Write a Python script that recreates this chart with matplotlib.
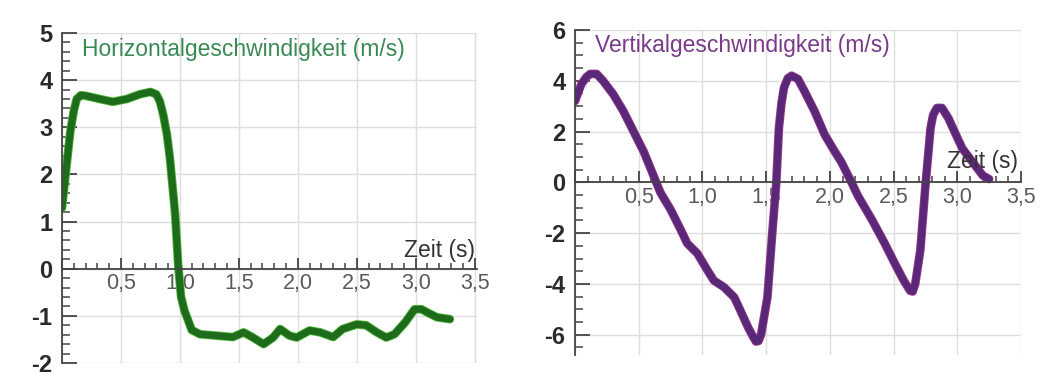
import numpy as np
import matplotlib.pyplot as plt
import matplotlib.patheffects as pe
from matplotlib.ticker import MultipleLocator, FuncFormatter

plt.rcParams['font.family'] = ['Liberation Sans', 'DejaVu Sans']

# Horizontalgeschwindigkeit
t_h = [0.0, 0.035, 0.07, 0.10, 0.125, 0.16, 0.195, 0.25, 0.32, 0.43, 0.55, 0.66, 0.75, 0.80, 0.83,
       0.86, 0.89, 0.915, 0.96, 0.985, 1.01, 1.04, 1.06, 1.10, 1.17, 1.31, 1.45, 1.54, 1.62, 1.71, 1.79,
       1.85, 1.93, 1.99, 2.10, 2.19, 2.30, 2.38, 2.50, 2.58, 2.67, 2.75, 2.82,
       2.91, 2.99, 3.05, 3.10, 3.18, 3.29]
v_h = [1.29, 2.1, 2.9, 3.35, 3.6, 3.68, 3.67, 3.64, 3.6, 3.54, 3.6, 3.7, 3.75, 3.7, 3.55,
       3.25, 2.85, 2.35, 1.15, 0.1, -0.6, -0.9, -1.03, -1.3, -1.39, -1.42, -1.45, -1.35, -1.46, -1.6, -1.46,
       -1.28, -1.42, -1.46, -1.31, -1.35, -1.45, -1.28, -1.18, -1.2, -1.35, -1.46, -1.39,
       -1.14, -0.86, -0.86, -0.93, -1.03, -1.07]

# Vertikalgeschwindigkeit
t_v = [0.0, 0.05, 0.09, 0.12, 0.17, 0.22, 0.30, 0.38, 0.46, 0.54, 0.605, 0.67, 0.75,
       0.83, 0.88, 0.96, 1.04, 1.09, 1.17, 1.25, 1.30, 1.36, 1.40, 1.42, 1.44, 1.46, 1.51,
       1.55, 1.58, 1.60, 1.62, 1.64, 1.67, 1.70, 1.75, 1.80, 1.88, 1.96, 2.04, 2.09, 2.17,
       2.22, 2.33, 2.43, 2.51, 2.58, 2.63, 2.65, 2.67, 2.71, 2.75, 2.79, 2.81, 2.84, 2.88,
       2.93, 2.99, 3.04, 3.12, 3.20, 3.25]
v_v = [3.2, 3.87, 4.15, 4.27, 4.27, 4.0, 3.47, 2.8, 2.0, 1.2, 0.4, -0.4, -1.07,
       -1.87, -2.4, -2.8, -3.47, -3.87, -4.13, -4.53, -5.07, -5.73, -6.1, -6.27, -6.25, -6.0, -4.53,
       -1.87, 0.0, 2.13, 3.1, 3.73, 4.1, 4.2, 4.07, 3.6, 2.8, 1.87, 1.2, 0.8, 0.0,
       -0.53, -1.47, -2.4, -3.2, -3.87, -4.27, -4.3, -4.0, -2.67, -0.13, 2.13, 2.65, 2.93, 2.93,
       2.53, 1.87, 1.33, 0.8, 0.27, 0.13]

W, H = 1046, 385
fig = plt.figure(figsize=(W/100, H/100), dpi=100)
fig.patch.set_facecolor('white')

def achse(rect, ylim, ymaj, ymin, yticks):
    ax = fig.add_axes(rect)
    ax.set_xlim(0, 3.5)
    ax.set_ylim(*ylim)
    ax.spines['top'].set_visible(False)
    ax.spines['right'].set_visible(False)
    ax.spines['bottom'].set_position(('data', 0))
    for s in ('left', 'bottom'):
        ax.spines[s].set_color('#444444')
        ax.spines[s].set_linewidth(1.3)
    ax.xaxis.set_major_locator(MultipleLocator(0.5))
    ax.xaxis.set_minor_locator(MultipleLocator(0.1))
    ax.yaxis.set_major_locator(MultipleLocator(ymaj))
    ax.yaxis.set_minor_locator(MultipleLocator(ymin))
    ax.xaxis.set_major_formatter(FuncFormatter(
        lambda x, p: '' if abs(x) < 1e-9 else f'{x:.1f}'.replace('.', ',')))
    ax.yaxis.set_major_formatter(FuncFormatter(lambda y, p: f'{int(round(y))}'))
    ax.tick_params(axis='both', which='both', direction='in', color='#444444')
    ax.tick_params(axis='y', which='major', length=11, width=1.3)
    ax.tick_params(axis='y', which='minor', length=6, width=1.1)
    ax.tick_params(axis='x', which='major', length=8, width=1.3)
    ax.tick_params(axis='x', which='minor', length=4, width=1.1)
    ax.tick_params(axis='y', labelsize=17, labelcolor='#2a2a2a', pad=7)
    ax.tick_params(axis='x', labelsize=15.5, labelcolor='#5a5a5a', pad=3)
    ax.set_yticks(yticks)
    for lab in ax.get_yticklabels():
        lab.set_fontweight('bold')
    ax.grid(True, which='major', color='#dedede', linewidth=1.0)
    ax.set_axisbelow(True)
    return ax

ax1 = achse([62/W, 22/H, 415/W, 330/H], (-2, 5), 1, 0.2, range(-2, 6))
ax1.plot(t_h, v_h, color='#1f6b1c', lw=5.0, solid_capstyle='round', solid_joinstyle='round',
         path_effects=[pe.Stroke(linewidth=6.2, foreground='#4fb83a'), pe.Normal()])
ax1.text(0.17, 4.65, 'Horizontalgeschwindigkeit (m/s)', color='#3a8a55',
         fontsize=16.5, va='center', ha='left')
ax1.text(3.5, 0.15, 'Zeit (s)', color='#333333', fontsize=16.5, ha='right', va='bottom')
ax1.set_xlim(0, 3.52)

ax2 = achse([575/W, 30/H, 446/W, 325/H], (-6.8, 6), 2, 0.5, range(-6, 7, 2))
ax2.plot(t_v, v_v, color='#5a2878', lw=5.0, solid_capstyle='round', solid_joinstyle='round',
         path_effects=[pe.Stroke(linewidth=6.2, foreground='#a03a8a'), pe.Normal()])
ax2.text(0.16, 5.4, 'Vertikalgeschwindigkeit (m/s)', color='#7a3a8a',
         fontsize=16.5, va='center', ha='left')
ax2.text(3.48, 0.35, 'Zeit (s)', color='#333333', fontsize=16.5, ha='right', va='bottom')

fig.savefig('out.png', dpi=100)
